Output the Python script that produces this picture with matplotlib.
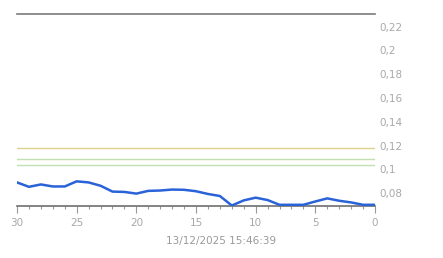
import numpy as np
import matplotlib
matplotlib.use("Agg")
import matplotlib.pyplot as plt
from matplotlib.ticker import FixedLocator

# =========================
# Données
# =========================
days = list(range(30, -1, -1))
values = [0.0891, 0.0854, 0.0874, 0.0857, 0.0857, 0.0900, 0.0891, 0.0863,
          0.0814, 0.0811, 0.0797, 0.0820, 0.0823, 0.0831, 0.0829, 0.0817,
          0.0794, 0.0777, 0.0697, 0.0740, 0.0763, 0.0743, 0.0703, 0.0703,
          0.0703, 0.0731, 0.0757, 0.0737, 0.0723, 0.0703, 0.0703]

seuils = [0.118, 0.1088, 0.1038]
seuil_colors = ["#dcd28c", "#bfe0b0", "#bfe0b0"]

ytick_vals = [0.08, 0.1, 0.12, 0.14, 0.16, 0.18, 0.2, 0.22]
ytick_labels = ["0,08", "0,1", "0,12", "0,14", "0,16", "0,18", "0,2", "0,22"]
xtick_major = [30, 25, 20, 15, 10, 5, 0]

timestamp = "13/12/2025 15:46:39"

# =========================
# Figure
# =========================
fig = plt.figure(figsize=(4.43, 2.58), dpi=100)
ax = fig.add_axes([17 / 443, 52 / 258, 358 / 443, 192 / 258])

ax.set_xlim(30, 0)
ax.set_ylim(0.0693, 0.2305)

for v, c in zip(seuils, seuil_colors):
    ax.axhline(v, color=c, lw=1.0, zorder=1)

ax.plot(days, values, color="#2a62d8", lw=1.8, zorder=3)

for s in ["left", "right"]:
    ax.spines[s].set_visible(False)
ax.spines["bottom"].set_color("#6e6e6e")
ax.spines["bottom"].set_linewidth(1.2)
ax.spines["top"].set_color("#7a7a7a")
ax.spines["top"].set_linewidth(1.2)

ax.yaxis.tick_right()
ax.set_yticks(ytick_vals)
ax.set_yticklabels(ytick_labels)
ax.tick_params(axis="y", length=0, pad=3, labelsize=7.5, labelcolor="#a8a8a8")

ax.set_xticks(xtick_major)
ax.set_xticklabels([str(d) for d in xtick_major])
ax.xaxis.set_minor_locator(FixedLocator(days))
ax.tick_params(axis="x", which="major", length=5, width=0.8, color="#999999",
               direction="out", pad=4, labelsize=7.5, labelcolor="#a8a8a8")
ax.tick_params(axis="x", which="minor", length=2.5, width=0.8, color="#999999",
               direction="out")

fig.text(221 / 443, 1 - 241 / 258, timestamp, ha="center", va="center",
         fontsize=7.5, color="#9a9a9a")

fig.savefig("out.png", dpi=100)
